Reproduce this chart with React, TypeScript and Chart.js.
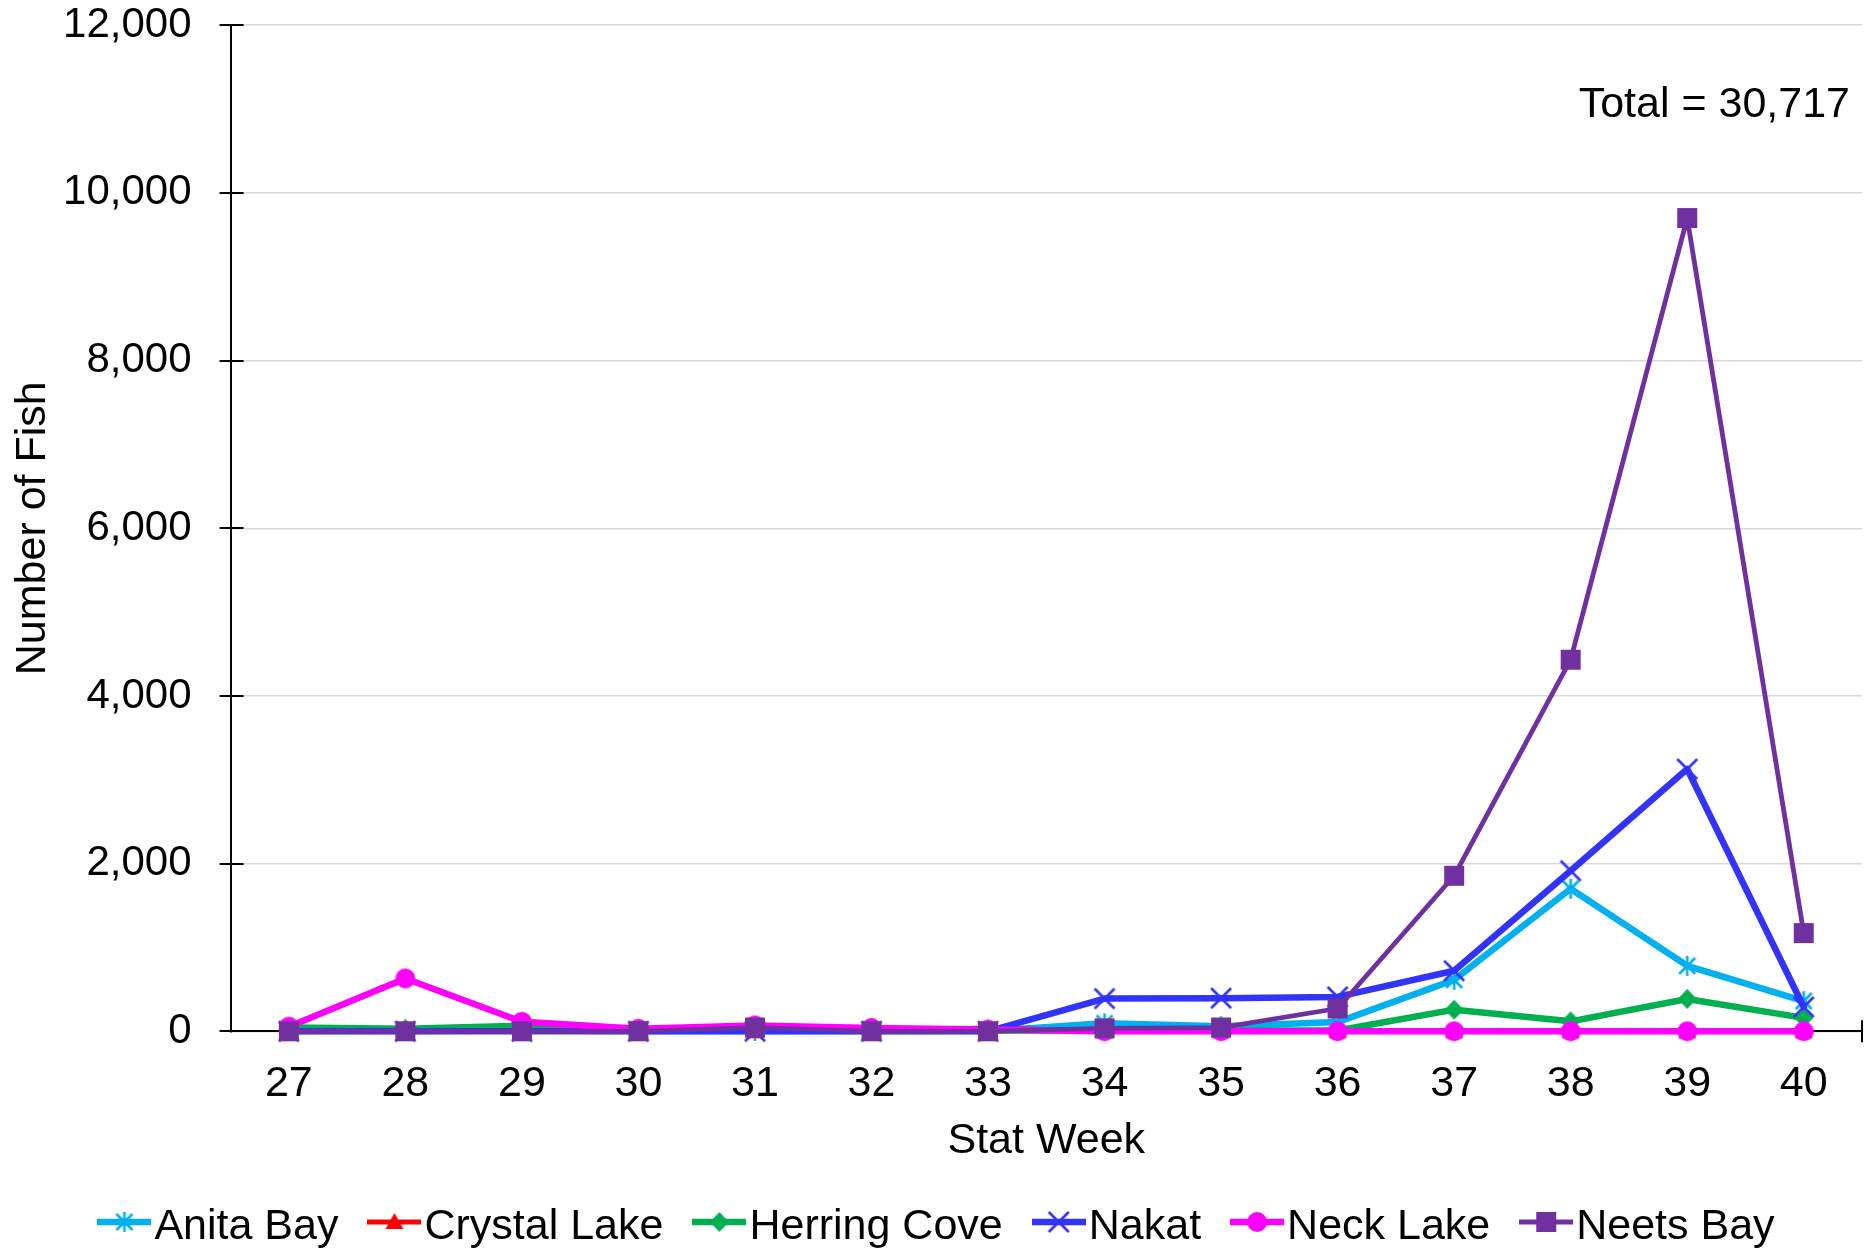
import React, { useEffect, useRef } from "react";
import { Chart, registerables } from "chart.js";

Chart.register(...registerables);

const weeks = ["27", "28", "29", "30", "31", "32", "33", "34", "35", "36", "37", "38", "39", "40"];
const anitaBay = [5, 5, 10, 5, 5, 5, 5, 95, 60, 110, 614, 1700, 781, 360];
const crystalLake = [0, 0, 0, 0, 0, 0, 40, 0, 0, 0, 0, 0, 0, 0];
const herringCove = [45, 30, 65, 20, 40, 15, 10, 10, 10, 10, 258, 119, 386, 160];
const nakat = [0, 0, 0, 0, 0, 0, 0, 390, 395, 410, 722, 1915, 3128, 290];
const neckLake = [55, 630, 113, 30, 70, 40, 20, 0, 0, 0, 0, 0, 0, 0];
const neetsBay = [0, 0, 0, 0, 45, 0, 0, 35, 45, 272, 1855, 4432, 9700, 1171];
const yTickValues = [0, 2000, 4000, 6000, 8000, 10000, 12000];
const totalLabel = "Total = 30,717";
const xTitle = "Stat Week";
const yTitle = "Number of Fish";

const FONT = '"Liberation Sans", Arial, sans-serif';

type Shape = "asterisk" | "triangle" | "diamond" | "x" | "circle" | "square";

function drawMarker(ctx: CanvasRenderingContext2D, shape: Shape, color: string, cx: number, cy: number) {
  ctx.save();
  ctx.fillStyle = color;
  ctx.strokeStyle = color;
  ctx.lineWidth = 2.6;
  ctx.lineCap = "butt";
  ctx.beginPath();
  if (shape === "square") {
    ctx.rect(cx - 10, cy - 10, 20, 20);
    ctx.fill();
  } else if (shape === "circle") {
    ctx.arc(cx, cy, 10, 0, Math.PI * 2);
    ctx.fill();
  } else if (shape === "diamond") {
    ctx.moveTo(cx, cy - 10);
    ctx.lineTo(cx + 9.5, cy);
    ctx.lineTo(cx, cy + 10);
    ctx.lineTo(cx - 9.5, cy);
    ctx.closePath();
    ctx.fill();
  } else if (shape === "triangle") {
    ctx.moveTo(cx, cy - 9);
    ctx.lineTo(cx + 9, cy + 7);
    ctx.lineTo(cx - 9, cy + 7);
    ctx.closePath();
    ctx.fill();
  } else if (shape === "x") {
    ctx.moveTo(cx - 10, cy - 10);
    ctx.lineTo(cx + 10, cy + 10);
    ctx.moveTo(cx + 10, cy - 10);
    ctx.lineTo(cx - 10, cy + 10);
    ctx.stroke();
  } else if (shape === "asterisk") {
    ctx.moveTo(cx, cy - 10);
    ctx.lineTo(cx, cy + 10);
    ctx.moveTo(cx - 8, cy - 8);
    ctx.lineTo(cx + 8, cy + 8);
    ctx.moveTo(cx + 8, cy - 8);
    ctx.lineTo(cx - 8, cy + 8);
    ctx.stroke();
  }
  ctx.restore();
}

function markerImage(shape: Shape, color: string): HTMLCanvasElement {
  const c = document.createElement("canvas");
  c.width = 26;
  c.height = 26;
  const ctx = c.getContext("2d")!;
  drawMarker(ctx, shape, color, 13, 13);
  return c;
}

function legendImage(shape: Shape, color: string, lw: number): HTMLCanvasElement {
  const c = document.createElement("canvas");
  c.width = 54;
  c.height = 26;
  const ctx = c.getContext("2d")!;
  ctx.strokeStyle = color;
  ctx.lineWidth = lw;
  ctx.beginPath();
  ctx.moveTo(0, 13);
  ctx.lineTo(54, 13);
  ctx.stroke();
  drawMarker(ctx, shape, color, 27, 13);
  return c;
}

const seriesDefs: { label: string; data: number[]; color: string; shape: Shape; width: number; order: number }[] = [
  { label: "Anita Bay", data: anitaBay, color: "#00B0F0", shape: "asterisk", width: 6.5, order: 5 },
  { label: "Crystal Lake", data: crystalLake, color: "#FF0000", shape: "triangle", width: 5, order: 4 },
  { label: "Herring Cove", data: herringCove, color: "#00B050", shape: "diamond", width: 6.5, order: 3 },
  { label: "Nakat", data: nakat, color: "#3333FF", shape: "x", width: 6.5, order: 2 },
  { label: "Neck Lake", data: neckLake, color: "#FF00FF", shape: "circle", width: 6.5, order: 1 },
  { label: "Neets Bay", data: neetsBay, color: "#7030A0", shape: "square", width: 4.8, order: 0 },
];

export default function App() {
  const ref = useRef<HTMLCanvasElement | null>(null);

  useEffect(() => {
    if (!ref.current) return;
    const tickFontY = { family: FONT, size: 42 };
    const font = { family: FONT, size: 43 };

    const extras = {
      id: "extras",
      beforeDatasetsDraw(chart: any) {
        const ctx = chart.ctx as CanvasRenderingContext2D;
        const y = chart.scales.y;
        const area = chart.chartArea;
        ctx.save();
        ctx.strokeStyle = "#000";
        ctx.lineWidth = 2;
        for (const v of yTickValues) {
          const py = Math.round(y.getPixelForValue(v));
          ctx.beginPath();
          ctx.moveTo(area.left - 11, py);
          ctx.lineTo(area.left + 13, py);
          ctx.stroke();
        }
        // right end tick on the x axis
        ctx.beginPath();
        ctx.moveTo(area.right, area.bottom - 11);
        ctx.lineTo(area.right, area.bottom + 11);
        ctx.stroke();
        ctx.restore();
      },
      afterDraw(chart: any) {
        const ctx = chart.ctx as CanvasRenderingContext2D;
        ctx.save();
        ctx.fillStyle = "#000";
        ctx.font = `43px ${FONT}`;
        ctx.textAlign = "right";
        ctx.textBaseline = "alphabetic";
        ctx.fillText(totalLabel, 1850, 117);

        // legend
        ctx.textAlign = "left";
        const imgW = 54;
        const gapText = 3;
        const gapItem = 29;
        const widths = seriesDefs.map((s) => imgW + gapText + ctx.measureText(s.label).width);
        const total = widths.reduce((a, b) => a + b, 0) + gapItem * (seriesDefs.length - 1);
        let x = chart.width / 2 + 2 - total / 2;
        const baseline = 1239;
        const markerY = 1222;
        seriesDefs.forEach((s, i) => {
          const img = legendImage(s.shape, s.color, s.width);
          ctx.drawImage(img, x, markerY - 13);
          ctx.fillText(s.label, x + imgW + gapText, baseline);
          x += widths[i] + gapItem;
        });
        ctx.restore();
      },
    };

    const chart = new Chart(ref.current, {
      type: "line",
      data: {
        labels: weeks,
        datasets: seriesDefs.map((s) => ({
          label: s.label,
          data: s.data,
          borderColor: s.color,
          backgroundColor: s.color,
          borderWidth: s.width,
          borderJoinStyle: "round" as const,
          borderCapStyle: "round" as const,
          pointStyle: markerImage(s.shape, s.color),
          pointRadius: 10,
          pointHoverRadius: 10,
          tension: 0,
          clip: false as any,
          order: s.order,
        })),
      },
      options: {
        animation: false,
        responsive: false,
        maintainAspectRatio: false,
        devicePixelRatio: 1,
        layout: { autoPadding: false, padding: { left: 0, right: 6, top: 0, bottom: 81.5 } },
        plugins: {
          legend: { display: false },
          tooltip: { enabled: false },
        },
        scales: {
          x: {
            type: "category",
            offset: true,
            afterFit: (s: any) => {
              s.paddingRight = 0;
              s.paddingLeft = 0;
            },
            grid: {
              display: true,
              drawOnChartArea: false,
              drawTicks: true,
              tickLength: 27,
              color: "rgba(0,0,0,0)",
              tickColor: "rgba(0,0,0,0)",
            },
            border: { display: true, color: "#000", width: 2 },
            ticks: { color: "#000", font, padding: 0, maxRotation: 0, autoSkip: false },
            title: { display: true, text: xTitle, color: "#000", font, padding: { top: 5, bottom: 0 } },
          },
          y: {
            min: 0,
            max: 12000,
            afterBuildTicks: (scale: any) => {
              scale.ticks = yTickValues.map((v) => ({ value: v }));
            },
            ticks: {
              color: "#000",
              font: tickFontY,
              padding: 0,
              callback: (v: any) => Number(v).toLocaleString("en-US"),
            },
            grid: {
              color: "#d9d9d9",
              lineWidth: 1.5,
              tickLength: 39,
              tickColor: "rgba(0,0,0,0)",
              drawTicks: true,
            },
            border: { display: true, color: "#000", width: 2 },
            title: { display: true, text: yTitle, color: "#000", font, padding: { top: 7, bottom: 4.5 } },
          },
        },
      },
      plugins: [extras],
    });

    return () => chart.destroy();
  }, []);

  return (
    <div style={{ position: "fixed", left: 0, top: 0, width: 1868, height: 1248, background: "#fff" }}>
      <canvas ref={ref} width={1868} height={1248} style={{ width: 1868, height: 1248, display: "block" }} />
    </div>
  );
}
